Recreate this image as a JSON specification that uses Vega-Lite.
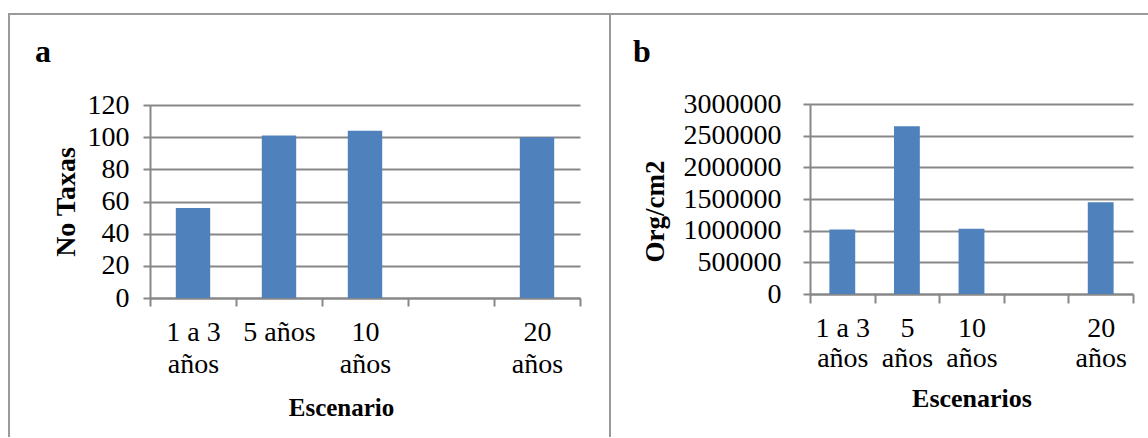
{
  "$schema": "https://vega.github.io/schema/vega-lite/v6.json",
  "background": "white",
  "padding": {"left": 8, "top": 13, "right": 0, "bottom": 0},
  "spacing": -1,
  "config": {
    "view": {"stroke": "#9a9a9a", "strokeWidth": 2},
    "font": "Liberation Serif",
    "axis": {
      "labelFont": "Liberation Serif",
      "labelFontSize": 28,
      "labelColor": "#000000",
      "titleFont": "Liberation Serif",
      "titleFontWeight": "bold",
      "titleColor": "#000000",
      "domainColor": "#878787",
      "domainWidth": 2,
      "tickColor": "#878787",
      "tickWidth": 2,
      "gridColor": "#878787",
      "gridWidth": 2
    },
    "title": {"font": "Liberation Serif", "fontWeight": "bold", "fontSize": 32, "color": "#000000", "anchor": "start", "frame": "group"}
  },
  "datasets": {
    "taxas": [
      {"escenario": "1 a 3 años", "taxas": 56},
      {"escenario": "5 años", "taxas": 101},
      {"escenario": "10 años", "taxas": 104},
      {"escenario": "20 años", "taxas": 100}
    ],
    "densidad": [
      {"escenario": "1 a 3 años", "org": 1020000},
      {"escenario": "5 años", "org": 2650000},
      {"escenario": "10 años", "org": 1030000},
      {"escenario": "20 años", "org": 1450000}
    ]
  },
  "hconcat": [
    {
      "title": {"text": "a", "dx": 26, "offset": -55},
      "width": 600,
      "height": 423,
      "view": {"strokeDash": [600, 1023, 423]},
      "data": {"name": "taxas"},
      "mark": {"type": "bar", "color": "#4F81BD", "width": {"band": 0.4}},
      "encoding": {
        "x": {
          "field": "escenario", "type": "nominal", "sort": null,
          "scale": {"domain": ["1 a 3 años", "5 años", "10 años", " ", "20 años"], "range": [141, 571], "paddingInner": 0, "paddingOuter": 0},
          "axis": {
            "title": "Escenario", "titleFontSize": 25, "titlePadding": 17, "titleX": 332, "offset": -139,
            "labelAngle": 0, "tickBand": "extent", "tickSize": 8, "labelPadding": 12, "labelLineHeight": 32,
            "labelExpr": "isValid(datum.value) && datum.value != ' ' ? (datum.value == '5 años' ? datum.value : [replace(datum.value, ' años', ''), 'años']) : ''"
          }
        },
        "y": {
          "field": "taxas", "type": "quantitative",
          "scale": {"domain": [0, 120], "nice": false, "range": [284, 91]},
          "axis": {
            "title": "No Taxas", "titleFontSize": 28, "titlePadding": 7, "offset": -141,
            "values": [0, 20, 40, 60, 80, 100, 120], "tickSize": 7, "labelPadding": 14, "format": "d"
          }
        }
      }
    },
    {
      "title": {"text": "b", "dx": 23, "offset": -55},
      "width": 538,
      "height": 423,
      "view": {"strokeDash": [538, 961, 423]},
      "data": {"name": "densidad"},
      "mark": {"type": "bar", "color": "#4F81BD", "width": {"band": 0.4}},
      "encoding": {
        "x": {
          "field": "escenario", "type": "nominal", "sort": null,
          "scale": {"domain": ["1 a 3 años", "5 años", "10 años", " ", "20 años"], "range": [200, 523], "paddingInner": 0, "paddingOuter": 0},
          "axis": {
            "title": "Escenarios", "titleFontSize": 26, "titlePadding": 13, "offset": -143,
            "labelAngle": 0, "tickBand": "extent", "tickSize": 9, "labelPadding": 11, "labelLineHeight": 30,
            "labelExpr": "isValid(datum.value) && datum.value != ' ' ? [replace(datum.value, ' años', ''), 'años'] : ''"
          }
        },
        "y": {
          "field": "org", "type": "quantitative",
          "scale": {"domain": [0, 3000000], "nice": false, "range": [280, 90]},
          "axis": {
            "title": "Org/cm2", "titleFontSize": 27, "titlePadding": 14, "titleY": 197, "offset": -200,
            "values": [0, 500000, 1000000, 1500000, 2000000, 2500000, 3000000], "tickSize": 7, "labelPadding": 22, "format": "d"
          }
        }
      }
    }
  ]
}
